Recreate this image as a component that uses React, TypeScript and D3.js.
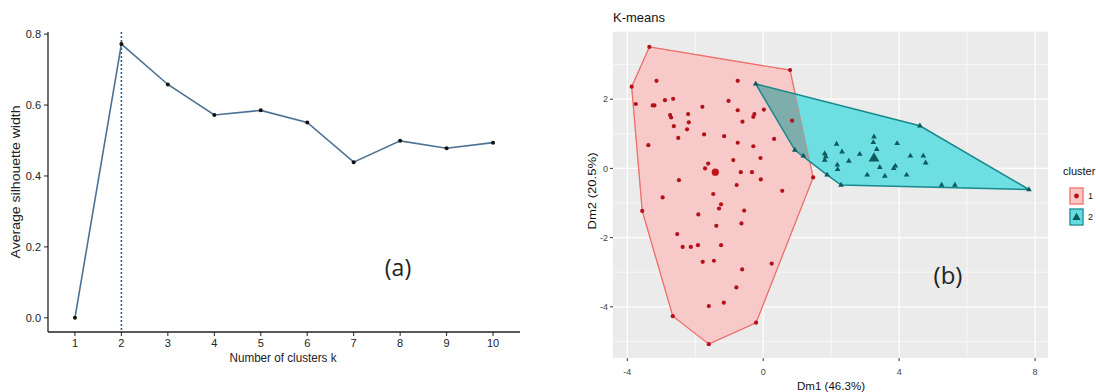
import * as d3 from "d3";

/* ---------------- data: (a) silhouette ---------------- */
const kValues = [1, 2, 3, 4, 5, 6, 7, 8, 9, 10];
const silWidth = [0.0, 0.772, 0.658, 0.572, 0.585, 0.551, 0.439, 0.499, 0.478, 0.494];
const silTicks = [0.0, 0.2, 0.4, 0.6, 0.8];
const optimalK = 2;

/* ---------------- data: (b) k-means clusters ---------------- */
const c1Dim1 = [
  -3.35, -3.87, -3.75, -3.14, -3.25, -3.2, -2.89, -2.65, -2.74, -2.71, -2.63, -2.21, -2.19, -2.24,
  -1.79, -2.5, -3.38, -1.74, -1.15, -1.02, -0.75, -0.75, -0.61, -0.75, -0.29, -0.29, -0.26, -0.88,
  -1.62, -1.71, -0.66, -0.33, -2.48, -0.78, -2.96, -1.47, -1.24, -1.3, -0.56, -3.56, -1.91, -1.38,
  -0.64, -2.53, -2.37, -2.13, -1.92, -1.24, -1.78, -1.45, -0.62, -0.79, -1.16, -1.6, -2.66, -1.6,
  -0.21, 0.79, 0.02, 0.32, 0.85, 1.47, 0.56, -0.07, -0.08, 0.25,
];
const c1Dim2 = [
  3.51, 2.36, 1.86, 2.53, 1.82, 1.82, 1.97, 2.01, 1.54, 1.47, 1.22, 1.57, 1.33, 1.13,
  1.78, 0.88, 0.67, 0.98, 0.93, 1.95, 2.53, 1.68, 1.35, 0.74, 0.64, 1.49, 1.57, 0.24,
  0.14, 0.0, -0.11, -0.11, -0.34, -0.48, -0.84, -0.74, -1.04, -1.16, -1.22, -1.23, -1.33, -1.66,
  -1.59, -1.9, -2.27, -2.27, -2.22, -2.22, -2.7, -2.67, -2.92, -3.44, -3.88, -3.98, -4.27, -5.08,
  -4.46, 2.84, 1.7, 0.85, 1.38, -0.26, -0.65, -0.32, 0.3, -2.75,
];
const c2Dim1 = [
  -0.22, 4.61, 7.82, 2.29, 0.93, 1.18, 1.81, 1.84, 1.81, 1.88, 2.16, 2.32, 2.18, 2.19, 2.52, 2.84,
  3.26, 3.24, 3.34, 3.43, 3.06, 3.58, 3.94, 3.89, 3.84, 4.33, 4.22, 4.71, 4.78, 5.25, 5.64,
];
const c2Dim2 = [
  2.44, 1.23, -0.61, -0.48, 0.53, 0.36, 0.43, 0.34, 0.24, -0.19, 0.7, 0.48, 0.1, -0.03, 0.21, 0.41,
  0.91, 0.75, 0.55, 0.03, -0.19, -0.22, 0.72, 0.07, 0.0, 0.36, -0.19, 0.36, 0.16, -0.48, -0.48,
];
const centroidDim1 = [-1.41, 3.26];
const centroidDim2 = [-0.11, 0.29];
const clusterNames = ["1", "2"];
const dim1Ticks = [-4, 0, 4, 8];
const dim1Minor = [-2, 2, 6];
const dim2Ticks = [-4, -2, 0, 2];
const dim2Minor = [-5, -3, -1, 1, 3];

const RED_FILL = "#f9c6c5";
const RED_LINE = "#ee6f69";
const RED_PT = "#b3121a";
const CYAN_FILL = "#66dde0";
const CYAN_LINE = "#17898c";
const CYAN_PT = "#0a5a5e";
const OVERLAP = "#7fadab";
const FONT = "'Liberation Sans', Arial, sans-serif";
const NARROW = "'Liberation Sans Narrow', 'Liberation Sans', Arial, sans-serif";

function SilhouettePanel() {
  const x = d3.scaleLinear().domain([0.42, 10.58]).range([48, 520]);
  const y = d3.scaleLinear().domain([-0.04, 0.806]).range([332, 32]);
  const line = d3
    .line<number>()
    .x((_, i) => x(kValues[i]))
    .y((d) => y(d));

  return (
    <g fontFamily={NARROW}>
      {/* optimal k marker */}
      <line
        x1={x(optimalK)}
        x2={x(optimalK)}
        y1={32}
        y2={332}
        stroke="#2f5f8f"
        strokeWidth={1.6}
        strokeDasharray="2,2"
      />
      <path d={line(silWidth) ?? ""} fill="none" stroke="#4d7194" strokeWidth={1.6} />
      {silWidth.map((v, i) => (
        <circle key={i} cx={x(kValues[i])} cy={y(v)} r={2} fill="#111" />
      ))}

      {/* axes */}
      <line x1={48} x2={48} y1={32} y2={332} stroke="#222" strokeWidth={1.3} />
      <line x1={48} x2={520} y1={332} y2={332} stroke="#222" strokeWidth={1.3} />
      {silTicks.map((t) => (
        <g key={t}>
          <line x1={44} x2={48} y1={y(t)} y2={y(t)} stroke="#222" />
          <text x={41} y={y(t)} dy="0.35em" textAnchor="end" fontSize={11} fill="#222">
            {t.toFixed(1)}
          </text>
        </g>
      ))}
      {kValues.map((k) => (
        <g key={k}>
          <line x1={x(k)} x2={x(k)} y1={332} y2={336} stroke="#222" />
          <text x={x(k)} y={347} textAnchor="middle" fontSize={11} fill="#222">
            {k}
          </text>
        </g>
      ))}
      <text
        x={283}
        y={358}
        textAnchor="middle"
        dominantBaseline="central"
        fontSize={12}
        fill="#222"
        textLength={107}
        lengthAdjust="spacingAndGlyphs"
      >
        Number of clusters k
      </text>
      <text
        transform={`translate(15,${182}) rotate(-90)`}
        textAnchor="middle"
        dominantBaseline="central"
        fontSize={13}
        fill="#222"
        textLength={153}
        lengthAdjust="spacingAndGlyphs"
      >
        Average silhouette width
      </text>
      <text x={398} y={276} textAnchor="middle" fontSize={23} fontFamily="'Open Sans', 'Noto Sans', sans-serif" fill="#222">
        (a)
      </text>
    </g>
  );
}

function ClusterPanel() {
  const x = d3.scaleLinear().domain([-4.42, 8.38]).range([613, 1048]);
  const y = d3.scaleLinear().domain([-5.48, 3.95]).range([358, 31.7]);
  const [x0, x1] = x.range();
  const [y0, y1] = y.range();

  const pts1: [number, number][] = c1Dim1.map((d, i) => [x(d), y(c1Dim2[i])]);
  const pts2: [number, number][] = c2Dim1.map((d, i) => [x(d), y(c2Dim2[i])]);
  const hull1 = d3.polygonHull(pts1) ?? [];
  const hull2 = d3.polygonHull(pts2) ?? [];
  const poly = (h: [number, number][]) => "M" + h.map((p) => p.join(",")).join("L") + "Z";
  const tri = d3.symbol().type(d3.symbolTriangle);

  return (
    <g fontFamily={FONT}>
      <defs>
        <clipPath id="hull1-clip">
          <path d={poly(hull1)} />
        </clipPath>
      </defs>
      <text x={613} y={22} fontSize={13} fill="#111">
        K-means
      </text>
      <rect x={x0} y={y1} width={x1 - x0} height={y0 - y1} fill="#EBEBEB" />
      {dim1Minor.map((t) => (
        <line key={"xm" + t} x1={x(t)} x2={x(t)} y1={y1} y2={y0} stroke="#fff" strokeWidth={0.6} />
      ))}
      {dim2Minor.map((t) => (
        <line key={"ym" + t} x1={x0} x2={x1} y1={y(t)} y2={y(t)} stroke="#fff" strokeWidth={0.6} />
      ))}
      {dim1Ticks.map((t) => (
        <line key={"xg" + t} x1={x(t)} x2={x(t)} y1={y1} y2={y0} stroke="#fff" strokeWidth={1.2} />
      ))}
      {dim2Ticks.map((t) => (
        <line key={"yg" + t} x1={x0} x2={x1} y1={y(t)} y2={y(t)} stroke="#fff" strokeWidth={1.2} />
      ))}

      {/* hulls */}
      <path d={poly(hull1)} fill={RED_FILL} fillOpacity={0.92} stroke={RED_LINE} strokeWidth={1.2} />
      <path d={poly(hull2)} fill={CYAN_FILL} fillOpacity={0.95} />
      <path d={poly(hull2)} fill={OVERLAP} clipPath="url(#hull1-clip)" />
      <path d={poly(hull1)} fill="none" stroke={RED_LINE} strokeWidth={1} strokeOpacity={0.5} />
      <path d={poly(hull2)} fill="none" stroke={CYAN_LINE} strokeWidth={1.5} />

      {/* points */}
      {pts1.map((p, i) => (
        <circle key={"p1" + i} cx={p[0]} cy={p[1]} r={2.1} fill={RED_PT} />
      ))}
      {pts2.map((p, i) => (
        <path
          key={"p2" + i}
          d={tri.size(14)() ?? ""}
          transform={`translate(${p[0]},${p[1]})`}
          fill={CYAN_PT}
        />
      ))}
      <circle cx={x(centroidDim1[0])} cy={y(centroidDim2[0])} r={3.6} fill="#c0141c" />
      <path
        d={tri.size(50)() ?? ""}
        transform={`translate(${x(centroidDim1[1])},${y(centroidDim2[1])})`}
        fill={CYAN_PT}
      />

      {/* axes */}
      {dim2Ticks.map((t) => (
        <g key={"yt" + t}>
          <line x1={x0 - 3} x2={x0} y1={y(t)} y2={y(t)} stroke="#333" />
          <text x={x0 - 5} y={y(t)} dy="0.35em" textAnchor="end" fontSize={9} fill="#444">
            {t}
          </text>
        </g>
      ))}
      {dim1Ticks.map((t) => (
        <g key={"xt" + t}>
          <line x1={x(t)} x2={x(t)} y1={y0} y2={y0 + 3} stroke="#333" />
          <text x={x(t)} y={375} textAnchor="middle" fontSize={9} fill="#444">
            {t}
          </text>
        </g>
      ))}
      <text x={831} y={390} textAnchor="middle" fontSize={11} fill="#111" textLength={68} lengthAdjust="spacingAndGlyphs">
        Dm1 (46.3%)
      </text>
      <text
        transform={`translate(592,191) rotate(-90)`}
        textAnchor="middle"
        dominantBaseline="central"
        fontSize={11}
        fill="#111"
        textLength={77}
        lengthAdjust="spacingAndGlyphs"
      >
        Dm2 (20.5%)
      </text>
      <text x={948} y={284} textAnchor="middle" fontSize={24} fontFamily="'Open Sans', 'Noto Sans', sans-serif" fill="#222">
        (b)
      </text>

      {/* legend */}
      <text x={1063} y={175} fontSize={11} fill="#111">
        cluster
      </text>
      {clusterNames.map((name, i) => {
        const top = 187 + i * 21;
        return (
          <g key={name}>
            <rect x={1069} y={top} width={15} height={18} fill="#EBEBEB" />
            <rect
              x={1070}
              y={top + 1}
              width={13}
              height={16}
              fill={i === 0 ? RED_FILL : CYAN_FILL}
              stroke={i === 0 ? RED_LINE : CYAN_LINE}
              strokeWidth={1.2}
            />
            {i === 0 ? (
              <circle cx={1076.5} cy={top + 9} r={2.4} fill={RED_PT} />
            ) : (
              <path d={tri.size(30)() ?? ""} transform={`translate(1076.5,${top + 9.5})`} fill={CYAN_PT} />
            )}
            <text x={1088} y={top + 9} dy="0.35em" fontSize={9} fill="#222">
              {name}
            </text>
          </g>
        );
      })}
    </g>
  );
}

export default function App() {
  return (
    <svg
      width={1096}
      height={392}
      style={{ position: "absolute", left: 0, top: 0, background: "#fff" }}
    >
      <SilhouettePanel />
      <ClusterPanel />
    </svg>
  );
}
